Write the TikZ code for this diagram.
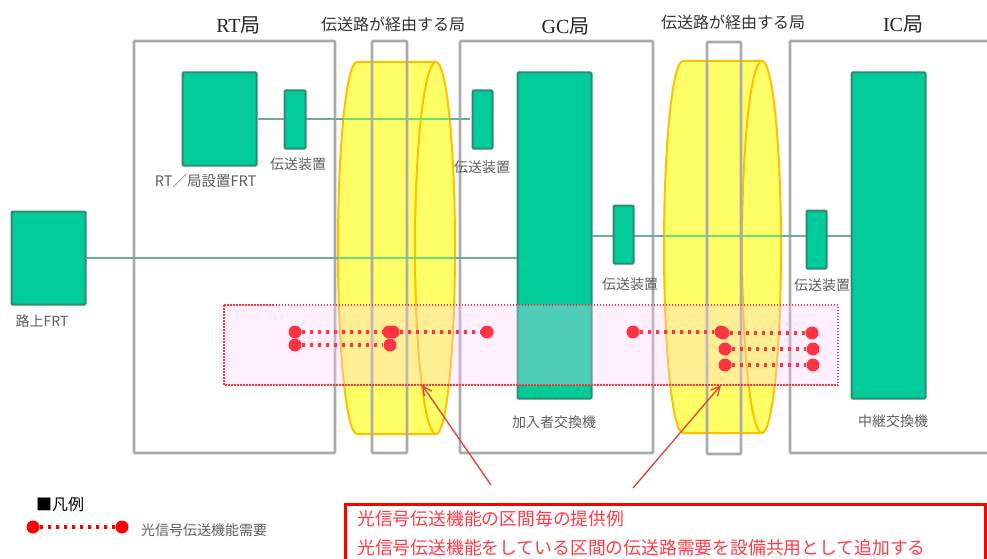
\documentclass[tikz,border=0pt]{standalone}
\usepackage{fontspec}
\setmainfont{Noto Sans CJK JP}
\newfontfamily\latserif{Liberation Serif}
\usetikzlibrary{arrows.meta}
\pgfdeclarelayer{under}
\pgfsetlayers{under,main}
\definecolor{gnfill}{HTML}{00CC99}
\definecolor{gnline}{HTML}{2E8B74}
\definecolor{grayln}{HTML}{ABABAB}
\definecolor{yfill}{HTML}{FFFF66}
\definecolor{yline}{HTML}{FFC000}
\definecolor{linkc}{HTML}{6FAB9B}
\definecolor{linkb}{HTML}{66E07A}
\definecolor{dotc}{HTML}{FF3344}
\definecolor{labc}{HTML}{5F5F5F}
\definecolor{arrc}{HTML}{E04A3A}
\tikzset{
  greenbox/.style={draw=gnline,fill=gnfill,line width=2pt,rounded corners=1pt,inner sep=0pt,anchor=north west},
  officebox/.style={draw=grayln,line width=2.6pt,rounded corners=1pt},
  link/.style={draw=linkc,line width=2pt},
  linkbright/.style={draw=linkb,line width=2pt},
  can/.style={draw=yline,fill=yfill,line width=2pt},
  canarc/.style={draw=yline,line width=2pt},
  band/.style={draw=dotc,line width=1.5pt,dash pattern=on 1.5pt off 1.5pt,fill=none},
  bandfill/.style={fill={rgb,255:red,255;green,204;blue,255},fill opacity=0.3},
  dotnode/.style={circle,fill=#1,minimum size=13pt,inner sep=0pt},
  dotnode/.default=dotc,
  dotlink/.style={draw=#1,line width=3.6pt,dash pattern=on 3.4pt off 4.6pt},
  dotlink/.default=dotc,
  lab/.style={text=labc,font=\fontsize{14}{14}\selectfont,inner sep=0pt},
  title/.style={text=black!80,font=\fontsize{16}{16}\selectfont,inner sep=0pt},
  ttl/.style={text=black!85,font=\fontsize{20}{20}\selectfont,inner sep=0pt},
  redtext/.style={text={rgb,255:red,255;green,60;blue,70},font=\fontsize{17.8}{18}\selectfont,inner sep=0pt,anchor=west},
  callout/.style={draw=arrc,line width=1.4pt,-{Straight Barb[length=9pt,width=9pt]}},
}
\newcommand{\canpath}[4]{(#2,#3) -- (#1,#3) arc[start angle=90,end angle=270,x radius=19pt,y radius=186pt] -- (#2,#4) arc[start angle=-90,end angle=90,x radius=19pt,y radius=186pt] -- cycle}
\begin{document}
\begin{tikzpicture}[x=1pt,y=-1pt]
\useasboundingbox (0,0) rectangle (987,559);
% equipment
\node[greenbox,minimum width=74pt,minimum height=93pt] (rtfrt) at (181.5,71.5) {};
\node[greenbox,minimum width=21pt,minimum height=58pt] (tr1) at (283.5,89.5) {};
\node[greenbox,minimum width=20pt,minimum height=58pt] (tr2) at (471.5,89.5) {};
\node[greenbox,minimum width=74pt,minimum height=326pt] (gc) at (516.5,71.5) {};
\node[greenbox,minimum width=20pt,minimum height=58pt] (tr3) at (612.5,204.5) {};
\node[greenbox,minimum width=20pt,minimum height=58pt] (tr4) at (805.5,209.5) {};
\node[greenbox,minimum width=74pt,minimum height=326pt] (ic) at (850.5,71.5) {};
\node[greenbox,minimum width=74pt,minimum height=93pt] (road) at (10.5,210.5) {};
\coordinate (gcline) at (road.east -| gc.west);
\coordinate (tr2in) at ([xshift=-2pt]tr2.west);
\begin{pgfonlayer}{under}
\fill[white] (0,0) rectangle (987,559);
\draw[officebox] (134,41) rectangle (335,453);
\draw[officebox] (460,41) rectangle (653,453);
\draw[officebox] (987,41) -- (790,41) -- (790,453) -- (987,453);
\draw[can] \canpath{357}{436}{62}{434};
\draw[canarc] (436,62) arc[start angle=90,end angle=270,x radius=21pt,y radius=186pt];
\draw[can] \canpath{683}{762}{61}{433};
\draw[canarc] (762,61) arc[start angle=90,end angle=270,x radius=20pt,y radius=186pt];
\draw[link] (rtfrt.east |- tr2in) -- (tr2in);
\draw[link] (road.east) -- (gcline);
\draw[link] (gc.east) -- (ic.west);
\begin{scope}
\clip \canpath{357}{436}{62}{434};
\draw[linkbright] (rtfrt.east |- tr2in) -- (tr2in);
\draw[linkbright] (road.east) -- (gcline);
\end{scope}
\begin{scope}
\clip \canpath{683}{762}{61}{433};
\draw[linkbright] (gc.east) -- (ic.west);
\end{scope}
\draw[officebox] (372,41) rectangle (407,453);
\draw[officebox] (707,42) rectangle (741,454);
\end{pgfonlayer}
% demand band
\fill[bandfill] (224,305) rectangle (838,385);
\draw[band] (224,305) rectangle (838,385);
\node[dotnode] (a1) at (295,332) {};
\node[dotnode] (a2) at (389,332) {};
\node[dotnode] (a3) at (393,332) {};
\node[dotnode] (a4) at (487,332) {};
\node[dotnode] (b1) at (295,345) {};
\node[dotnode] (b2) at (390,345) {};
\node[dotnode] (c1) at (633,332) {};
\node[dotnode] (c2) at (721,332) {};
\node[dotnode] (c3) at (723,333) {};
\node[dotnode] (c4) at (812,333) {};
\node[dotnode] (e1) at (725,349) {};
\node[dotnode] (e2) at (813,349) {};
\node[dotnode] (f1) at (725,365) {};
\node[dotnode] (f2) at (813,365) {};
\draw[dotlink] (a1) -- (a2);
\draw[dotlink] (a3) -- (a4);
\draw[dotlink] (b1) -- (b2);
\draw[dotlink] (c1) -- (c2);
\draw[dotlink] (c3) -- (c4);
\draw[dotlink] (e1) -- (e2);
\draw[dotlink] (f1) -- (f2);
% titles
\node[ttl] (t1) at (238.5,25) {{\latserif RT}局};
\node[title] (t2) at (393,24) {伝送路が経由する局};
\node[ttl] (t3) at (565.5,26) {{\latserif GC}局};
\node[title] (t4) at (733,22) {伝送路が経由する局};
\node[ttl] (t5) at (903,24) {{\latserif IC}局};
% labels
\node[lab] (l1) at (298,164) {伝送装置};
\node[lab] (l2) at (482,167) {伝送装置};
\node[lab] (l3) at (630,284) {伝送装置};
\node[lab] (l4) at (822,285) {伝送装置};
\node[lab,font=\fontsize{14.5}{14}\selectfont] (l5) at (205.5,181) {RT／局設置FRT};
\node[lab] (l6) at (42,321) {路上FRT};
\node[lab] (l7) at (554,422) {加入者交換機};
\node[lab] (l8) at (893,421) {中継交換機};
% legend
\node[title,anchor=west,text=black,font=\fontsize{16}{16}\selectfont] (lg) at (36,504) {■凡例};
\node[dotnode=red] (g1) at (33,527) {};
\node[dotnode=red] (g2) at (122,527) {};
\draw[dotlink=red] (g1) -- (g2);
\node[lab,anchor=west] (g3) at (141,530) {光信号伝送機能需要};
% note
\draw[draw=red,line width=3pt] (345,559) -- (345,504) -- (985,504) -- (985,559);
\node[redtext] (n1) at (357,519) {光信号伝送機能の区間毎の提供例};
\node[redtext] (n2) at (357,548) {光信号伝送機能をしている区間の伝送路需要を設備共用として追加する};
\coordinate (p1) at (491,485);
\coordinate (q1) at (422,385);
\coordinate (p2) at (633,488);
\coordinate (q2) at (721,385);
\draw[callout] (p1) -- (q1);
\draw[callout] (p2) -- (q2);
\end{tikzpicture}
\end{document}
